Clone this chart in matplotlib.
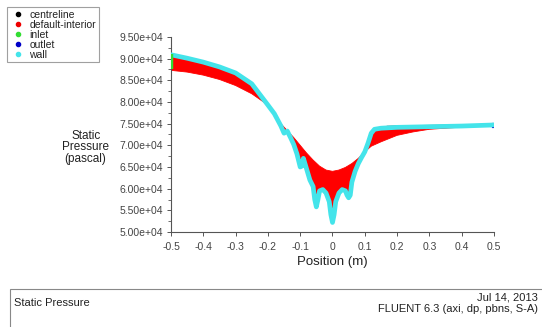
import numpy as np
import matplotlib
matplotlib.use("Agg")
import matplotlib.pyplot as plt
from matplotlib.lines import Line2D
from matplotlib.patches import Rectangle
from matplotlib.ticker import MultipleLocator, FuncFormatter

plt.rcParams['font.family'] = ['Liberation Sans', 'DejaVu Sans']

# wall static pressure (upper/outer edge)
wall_x = [-0.5, -0.45, -0.4, -0.35, -0.3, -0.25, -0.2, -0.18, -0.16, -0.15, -0.14,
          -0.13, -0.12, -0.11, -0.1, -0.095, -0.09, -0.08, -0.07, -0.06, -0.055,
          -0.05, -0.045, -0.04, -0.03, -0.02, -0.01, -0.005, 0.0, 0.005, 0.01,
          0.02, 0.03, 0.04, 0.045, 0.05, 0.055, 0.06, 0.07, 0.08, 0.09, 0.1,
          0.11, 0.12, 0.13, 0.15, 0.2, 0.3, 0.4, 0.5]
wall_p = [90900, 90100, 89200, 88100, 86700, 84200, 79300, 77300, 74500, 72800, 73300,
          71800, 70200, 68000, 65000, 65200, 67000, 64500, 62000, 60500, 57500,
          55800, 57500, 59500, 59800, 59000, 57000, 54000, 52200, 54000, 57000,
          59000, 59800, 59500, 58500, 57900, 58500, 61500, 64000, 65800, 67200, 68500,
          70500, 72800, 73700, 73950, 74150, 74300, 74450, 74700]

# default-interior: opposite edge of the cell-value band
int_x = [-0.5, -0.45, -0.4, -0.35, -0.3, -0.25, -0.2, -0.18, -0.16, -0.15, -0.14,
         -0.12, -0.1, -0.08, -0.06, -0.04, -0.02, 0.0, 0.02, 0.04, 0.06, 0.08,
         0.1, 0.12, 0.15, 0.2, 0.25, 0.3, 0.4, 0.5]
int_p = [87300, 86900, 86200, 85200, 83800, 81900, 79300, 77500, 75000, 74200, 73400,
         71800, 70000, 68200, 66600, 65200, 64300, 64000, 64300, 64900, 65800, 67000,
         68500, 69800, 70800, 72300, 73100, 73700, 74200, 74500]

# centreline
cl_x = [0.17, 0.25, 0.35, 0.45, 0.5]
cl_p = [74350, 74500, 74600, 74750, 74900]

# inlet & outlet
inlet_x = [-0.5, -0.5]
inlet_p = [87500, 91000]
outlet_x = [0.5, 0.5]
outlet_p = [74500, 74800]

fig = plt.figure(figsize=(5.42, 3.27), dpi=100)
ax = fig.add_axes([0.3155, 0.2905, 0.5959, 0.5964])

px = np.concatenate([wall_x, int_x[::-1]])
py = np.concatenate([wall_p, int_p[::-1]])
ax.fill(px, py, color='#ff0000', lw=0.6, ec='#ff0000', zorder=2)

ax.plot(outlet_x, outlet_p, color='#0000c8', lw=3, zorder=2.5)
ax.plot(cl_x, cl_p, color='#222222', lw=1.0, zorder=2.6)
ax.plot(wall_x, wall_p, color='#44e4ea', lw=3.4, solid_capstyle='round',
        solid_joinstyle='round', zorder=3)
ax.plot(inlet_x, inlet_p, color='#33dd33', lw=3.2, solid_capstyle='butt', zorder=4)

ax.set_xlim(-0.5, 0.5)
ax.set_ylim(50000, 95000)
ax.spines['top'].set_visible(False)
ax.spines['right'].set_visible(False)
for s in ('left', 'bottom'):
    ax.spines[s].set_color('#555555')
    ax.spines[s].set_linewidth(0.8)
ax.xaxis.set_major_locator(MultipleLocator(0.1))
ax.yaxis.set_major_locator(MultipleLocator(5000))
ax.yaxis.set_minor_locator(MultipleLocator(2500))
ax.xaxis.set_major_formatter(FuncFormatter(
    lambda v, p: '0' if abs(v) < 1e-9 else '%.1f' % v))
ax.yaxis.set_major_formatter(FuncFormatter(lambda v, p: '%.2e' % v))
ax.tick_params(axis='both', which='major', length=3, width=0.7, color='#555555',
               labelsize=7.5, labelcolor='#444444', pad=2.5)
ax.tick_params(axis='x', which='major', pad=4)
ax.tick_params(axis='y', which='minor', length=2, width=0.6, color='#555555')
ax.set_xlabel('Position (m)', fontsize=9.5, color='#222222', labelpad=3)

fig.text(0.158, 0.55, 'Static\nPressure\n(pascal)', ha='center', va='center',
         fontsize=8.5, color='#222222', linespacing=0.95, multialignment='center')

handles = [Line2D([], [], ls='', marker='o', ms=3, color=c) for c in
           ['#000000', '#ee0000', '#33dd33', '#0000c8', '#44e4ea']]
labels = ['centreline', 'default-interior', 'inlet', 'outlet', 'wall']
leg = fig.legend(handles, labels, loc='upper left', bbox_to_anchor=(0.013, 0.978),
                 fontsize=7.5, frameon=True, fancybox=False, edgecolor='#888888',
                 labelspacing=0.0, handlelength=1.6, handletextpad=0.3,
                 borderpad=0.25, borderaxespad=0)
leg.get_frame().set_linewidth(0.8)
for t in leg.get_texts():
    t.set_color('#222222')

# bottom info box
fig.patches.append(Rectangle((10 / 542, -0.1), 1.0, (327 - 289) / 327 + 0.1,
                             transform=fig.transFigure, fill=False,
                             ec='#888888', lw=0.8))
fig.text(14 / 542, 1 - 303 / 327, 'Static Pressure', fontsize=8, color='#222222',
         ha='left', va='center')
fig.text(538 / 542, 1 - 298 / 327, 'Jul 14, 2013', fontsize=8, color='#222222',
         ha='right', va='center')
fig.text(538 / 542, 1 - 309 / 327, 'FLUENT 6.3 (axi, dp, pbns, S-A)', fontsize=8,
         color='#222222', ha='right', va='center')

fig.savefig('out.png', dpi=100)
